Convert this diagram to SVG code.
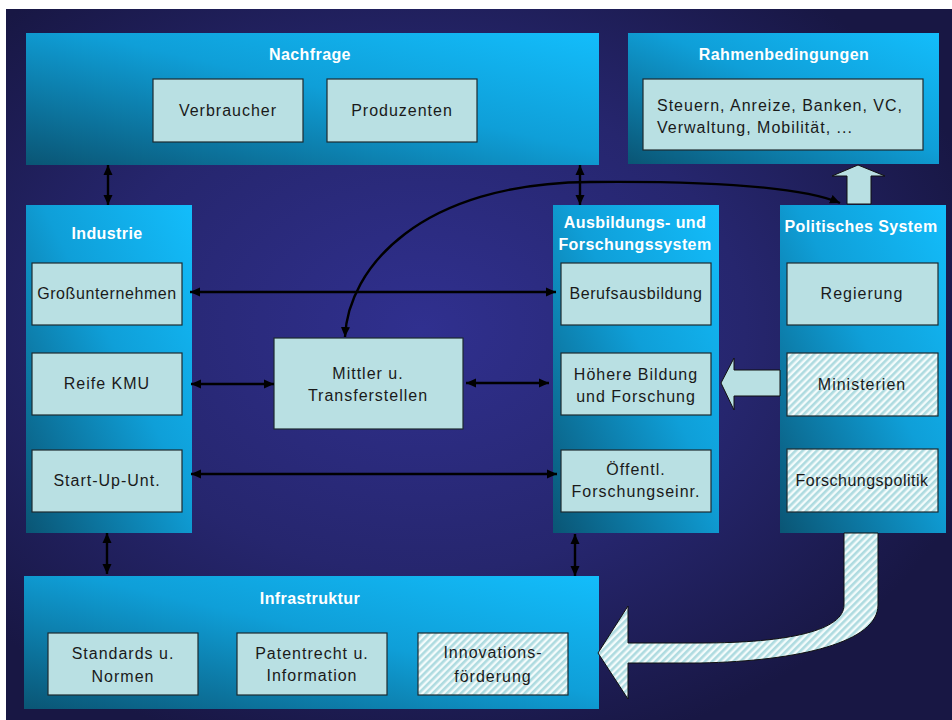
<svg xmlns="http://www.w3.org/2000/svg" width="952" height="720" viewBox="0 0 952 720">
  <defs>
    <radialGradient id="bgGrad" cx="0.44" cy="0.45" r="0.62">
      <stop offset="0" stop-color="#30308f"/>
      <stop offset="0.55" stop-color="#26266e"/>
      <stop offset="1" stop-color="#181744"/>
    </radialGradient>
    <linearGradient id="panelGrad" x1="1" y1="0" x2="0" y2="1">
      <stop offset="0" stop-color="#13bdfb"/>
      <stop offset="0.45" stop-color="#0f9fd8"/>
      <stop offset="1" stop-color="#0a5574"/>
    </linearGradient>
    <pattern id="hatch" width="5" height="5" patternUnits="userSpaceOnUse" patternTransform="rotate(45)">
      <rect width="5" height="5" fill="#f3fbfb"/>
      <rect width="2.6" height="5" fill="#aedbe0"/>
    </pattern>
    <marker id="ah" viewBox="0 0 10 10" refX="10" refY="5" markerWidth="10" markerHeight="10" markerUnits="userSpaceOnUse" orient="auto-start-reverse">
      <path d="M0,0.5 L10,5 L0,9.5 Z" fill="#000"/>
    </marker>
    <style>
      .panel { fill: url(#panelGrad); }
      .box { fill: #b9e0e3; stroke: #1d2a30; stroke-width: 1.2; }
      .hatched { fill: url(#hatch); stroke: #1d2a30; stroke-width: 1.2; }
      .title { font-family: "Liberation Sans", Arial, sans-serif; font-weight: bold; font-size: 16px; fill: #ffffff; text-anchor: middle; letter-spacing: 0.4px; }
      .label { font-family: "Liberation Sans", Arial, sans-serif; font-size: 16px; fill: #1a1a1a; text-anchor: middle; letter-spacing: 1px; }
      .conn { stroke: #000; stroke-width: 2.4; fill: none; marker-start: url(#ah); marker-end: url(#ah); }
      .block { fill: #b9e0e3; stroke: #111; stroke-width: 1; }
    </style>
  </defs>

  <rect x="0" y="0" width="952" height="720" fill="#ffffff"/>
  <rect x="6" y="9" width="946" height="711" fill="url(#bgGrad)"/>

  <!-- Nachfrage -->
  <g id="nachfrage">
    <rect class="panel" x="26" y="33" width="573" height="132"/>
    <text class="title" x="310" y="60">Nachfrage</text>
    <rect class="box" x="153" y="79" width="150" height="63"/>
    <text class="label" x="228" y="116">Verbraucher</text>
    <rect class="box" x="327" y="79" width="150" height="63"/>
    <text class="label" x="402" y="116">Produzenten</text>
  </g>

  <!-- Rahmenbedingungen -->
  <g id="rahmenbedingungen">
    <rect class="panel" x="628" y="33" width="311" height="131"/>
    <text class="title" x="784" y="60">Rahmenbedingungen</text>
    <rect class="box" x="643" y="79" width="280" height="71"/>
    <text class="label" x="657" y="111" style="text-anchor:start">Steuern, Anreize, Banken, VC,</text>
    <text class="label" x="657" y="133" style="text-anchor:start">Verwaltung, Mobilität, ...</text>
  </g>

  <!-- Industrie -->
  <g id="industrie">
    <rect class="panel" x="26" y="205" width="166" height="328"/>
    <text class="title" x="107" y="239">Industrie</text>
    <rect class="box" x="32" y="263" width="150" height="62"/>
    <text class="label" x="107" y="299" style="letter-spacing:0.6px">Großunternehmen</text>
    <rect class="box" x="32" y="353" width="150" height="62"/>
    <text class="label" x="107" y="389">Reife KMU</text>
    <rect class="box" x="32" y="450" width="150" height="62"/>
    <text class="label" x="107" y="486">Start-Up-Unt.</text>
  </g>

  <!-- Mittler -->
  <g id="mittler">
    <rect class="box" x="274" y="338" width="189" height="91"/>
    <text class="label" x="368" y="379">Mittler u.</text>
    <text class="label" x="368" y="401">Transferstellen</text>
  </g>

  <!-- Ausbildungs- und Forschungssystem -->
  <g id="ausbildung">
    <rect class="panel" x="553" y="205" width="166" height="328"/>
    <text class="title" x="635" y="228">Ausbildungs- und</text>
    <text class="title" x="635" y="250">Forschungssystem</text>
    <rect class="box" x="561" y="263" width="150" height="62"/>
    <text class="label" x="636" y="299" style="letter-spacing:0.6px">Berufsausbildung</text>
    <rect class="box" x="561" y="353" width="150" height="62"/>
    <text class="label" x="636" y="380">Höhere Bildung</text>
    <text class="label" x="636" y="402">und Forschung</text>
    <rect class="box" x="561" y="450" width="150" height="62"/>
    <text class="label" x="636" y="475">Öffentl.</text>
    <text class="label" x="636" y="497">Forschungseinr.</text>
  </g>

  <!-- Politisches System -->
  <g id="politik">
    <rect class="panel" x="780" y="205" width="166" height="328"/>
    <text class="title" x="861" y="232">Politisches System</text>
    <rect class="box" x="787" y="263" width="151" height="62"/>
    <text class="label" x="862" y="299">Regierung</text>
    <rect class="hatched" x="787" y="353" width="151" height="63"/>
    <text class="label" x="862" y="390">Ministerien</text>
    <rect class="hatched" x="787" y="449" width="151" height="63"/>
    <text class="label" x="862" y="486" style="letter-spacing:0.5px">Forschungspolitik</text>
  </g>

  <!-- Infrastruktur -->
  <g id="infrastruktur">
    <rect class="panel" x="24" y="576" width="575" height="133"/>
    <text class="title" x="310" y="604">Infrastruktur</text>
    <rect class="box" x="48" y="633" width="150" height="62"/>
    <text class="label" x="123" y="659">Standards u.</text>
    <text class="label" x="123" y="682">Normen</text>
    <rect class="box" x="237" y="633" width="150" height="62"/>
    <text class="label" x="312" y="659">Patentrecht u.</text>
    <text class="label" x="312" y="681">Information</text>
    <rect class="hatched" x="418" y="633" width="150" height="62"/>
    <text class="label" x="493" y="658">Innovations-</text>
    <text class="label" x="493" y="682">förderung</text>
  </g>

  <!-- Connectors -->
  <g id="connectors">
    <line class="conn" x1="108" y1="165" x2="108" y2="205"/>
    <line class="conn" x1="580" y1="165" x2="580" y2="205"/>
    <line class="conn" x1="107" y1="533" x2="107" y2="574"/>
    <line class="conn" x1="575" y1="534" x2="575" y2="576"/>
    <line class="conn" x1="190" y1="292" x2="556" y2="292"/>
    <line class="conn" x1="191" y1="384" x2="274" y2="384"/>
    <line class="conn" x1="466" y1="383" x2="549" y2="383"/>
    <line class="conn" x1="191" y1="474" x2="557" y2="474"/>
    <path class="conn" d="M345,337 C348,268 420,183 590,182 C700,181 800,186 840,203"/>

    <!-- block arrows -->
    <path class="block" d="M847,204 L847,176 L832,176 L858,165 L885,176 L871,176 L871,204 Z"/>
    <path class="block" d="M780,370 L734,370 L734,358 L721,383 L734,410 L734,396 L780,396 Z"/>
    <path d="M844,533 L844,605 C844,630 790,643 700,643 L628,643 L628,606 L598,653 L628,699 L628,663 L700,663 C800,661 878,642 878,605 L878,533 Z" fill="url(#hatch)" stroke="#111" stroke-width="1"/>
  </g>
</svg>
